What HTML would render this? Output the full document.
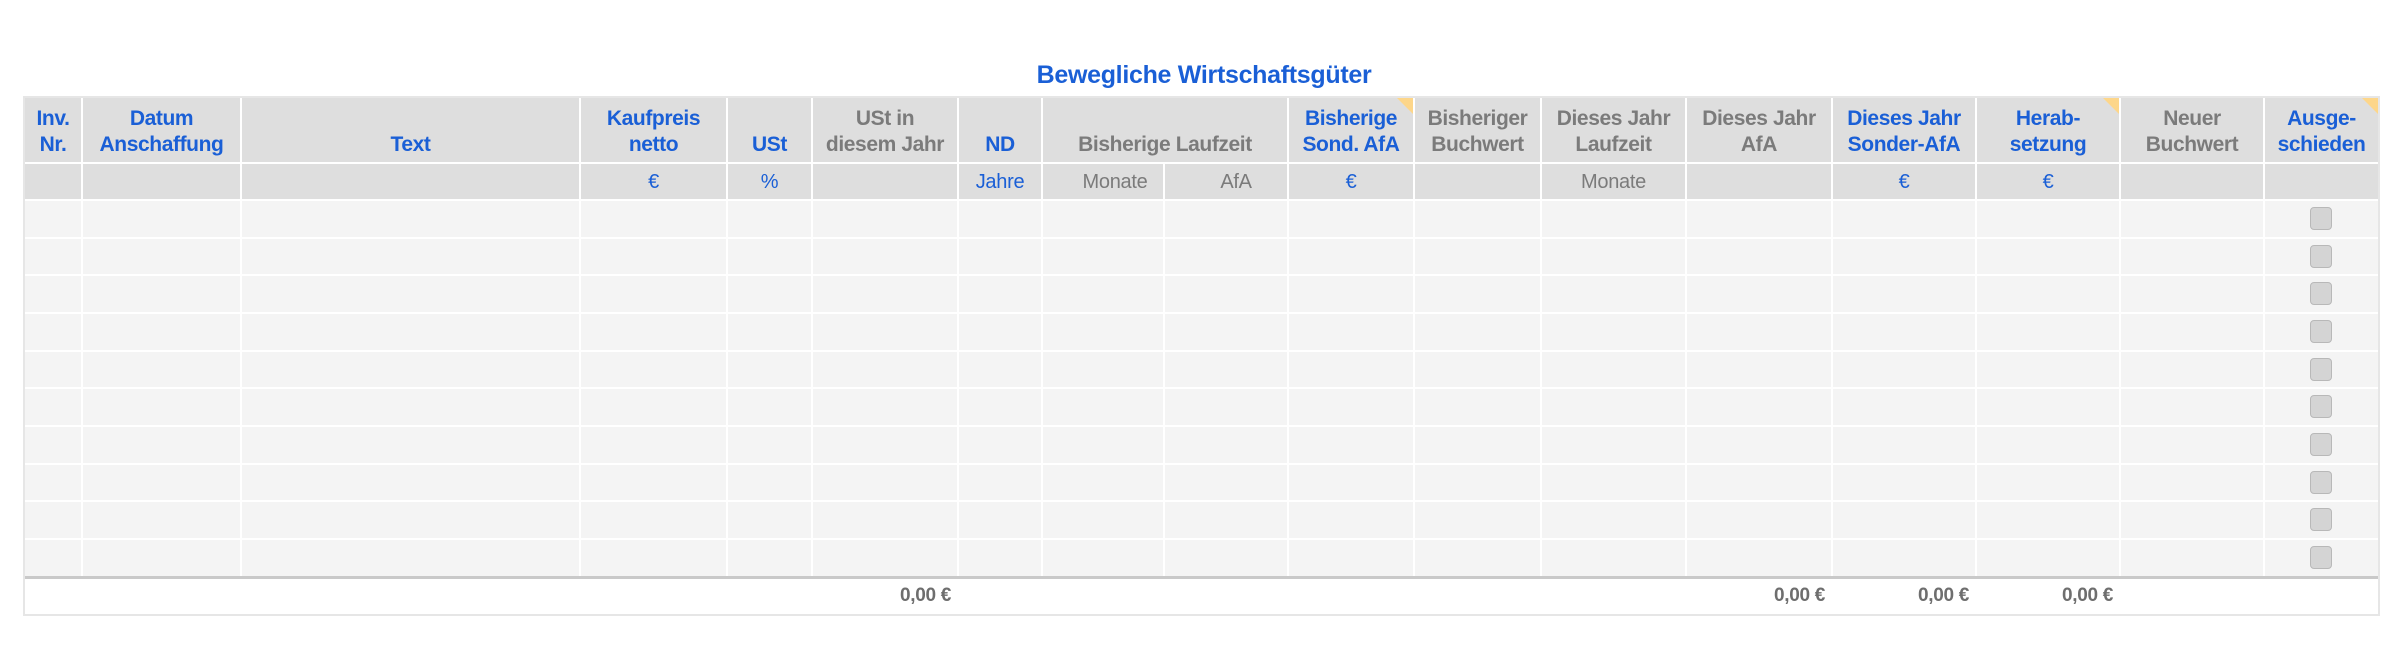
<!DOCTYPE html>
<html><head><meta charset="utf-8"><style>
*{margin:0;padding:0;box-sizing:border-box}
body{width:2408px;height:666px;background:#fff;position:relative;overflow:hidden;font-family:"Liberation Sans",Arial,sans-serif}
.a{position:absolute}
.t{position:absolute;text-align:center;font-weight:bold;font-size:21px;line-height:26px;letter-spacing:-0.4px;display:flex;align-items:flex-end;justify-content:center;top:98px;height:66px;padding-bottom:6px}
.b{color:#1a5fd6}.g{color:#7b7b7b}
.u{position:absolute;top:164px;height:37px;font-size:20px;line-height:37px;text-align:center;letter-spacing:-0.3px}
.vl{position:absolute;width:2px;background:#fff;top:98px;height:478px}
.hl{position:absolute;height:2px;background:#fff;left:25px;width:2353px}
.cb{position:absolute;left:2310px;width:22px;height:23px;border-radius:4px;background:#d4d4d4;border:1px solid #b8b8b8}
.tri{position:absolute;width:0;height:0;border-top:16px solid #fdd68a;border-left:16px solid transparent}
.f{position:absolute;top:578px;height:36px;line-height:36px;font-size:19px;font-weight:bold;color:#6e6e6e;text-align:right;letter-spacing:-0.3px}
</style></head><body>
<div class="a b" style="left:0;width:2408px;top:58px;text-align:center;font-size:25px;font-weight:bold;line-height:34px;letter-spacing:-0.3px">Bewegliche Wirtschaftsgüter</div>
<div class="a" style="left:23px;top:96px;width:2357px;height:520px;border:2px solid #e6e6e6"></div>
<div class="a" style="left:25px;top:98px;width:2353px;height:102px;background:#dedede"></div>
<div class="a" style="left:25px;top:200px;width:2353px;height:376px;background:#f4f4f4"></div>
<div class="a" style="left:25px;top:576px;width:2353px;height:3px;background:#c9c9c9"></div>
<div class="vl" style="left:81px"></div>
<div class="vl" style="left:240px"></div>
<div class="vl" style="left:579px"></div>
<div class="vl" style="left:726px"></div>
<div class="vl" style="left:811px"></div>
<div class="vl" style="left:957px"></div>
<div class="vl" style="left:1041px"></div>
<div class="vl" style="left:1163px;top:163px;height:413px"></div>
<div class="vl" style="left:1287px"></div>
<div class="vl" style="left:1413px"></div>
<div class="vl" style="left:1540px"></div>
<div class="vl" style="left:1685px"></div>
<div class="vl" style="left:1831px"></div>
<div class="vl" style="left:1975px"></div>
<div class="vl" style="left:2119px"></div>
<div class="vl" style="left:2263px"></div>
<div class="hl" style="top:162px"></div>
<div class="hl" style="top:199px"></div>
<div class="hl" style="top:237px"></div>
<div class="hl" style="top:274px"></div>
<div class="hl" style="top:312px"></div>
<div class="hl" style="top:350px"></div>
<div class="hl" style="top:387px"></div>
<div class="hl" style="top:425px"></div>
<div class="hl" style="top:463px"></div>
<div class="hl" style="top:500px"></div>
<div class="hl" style="top:538px"></div>
<div class="t b" style="left:25px;width:56px">Inv.<br>Nr.</div>
<div class="t b" style="left:83px;width:157px">Datum<br>Anschaffung</div>
<div class="t b" style="left:242px;width:337px">Text</div>
<div class="t b" style="left:581px;width:145px">Kaufpreis<br>netto</div>
<div class="t b" style="left:728px;width:83px">USt</div>
<div class="t g" style="left:813px;width:144px">USt in<br>diesem Jahr</div>
<div class="t b" style="left:959px;width:82px">ND</div>
<div class="t g" style="left:1043px;width:244px">Bisherige Laufzeit</div>
<div class="t b" style="left:1289px;width:124px">Bisherige<br>Sond. AfA</div>
<div class="t g" style="left:1415px;width:125px">Bisheriger<br>Buchwert</div>
<div class="t g" style="left:1542px;width:143px">Dieses Jahr<br>Laufzeit</div>
<div class="t g" style="left:1687px;width:144px">Dieses Jahr<br>AfA</div>
<div class="t b" style="left:1833px;width:142px">Dieses Jahr<br>Sonder-AfA</div>
<div class="t b" style="left:1977px;width:142px">Herab-<br>setzung</div>
<div class="t g" style="left:2121px;width:142px">Neuer<br>Buchwert</div>
<div class="t b" style="left:2265px;width:113px">Ausge-<br>schieden</div>
<div class="tri" style="left:1397px;top:98px"></div>
<div class="tri" style="left:2103px;top:98px"></div>
<div class="tri" style="left:2362px;top:98px"></div>
<div class="u b" style="left:581px;width:145px">€</div>
<div class="u b" style="left:728px;width:83px">%</div>
<div class="u b" style="left:959px;width:82px">Jahre</div>
<div class="u g" style="left:1053px;width:124px">Monate</div>
<div class="u g" style="left:1176px;width:120px">AfA</div>
<div class="u b" style="left:1289px;width:124px">€</div>
<div class="u g" style="left:1542px;width:143px">Monate</div>
<div class="u b" style="left:1833px;width:142px">€</div>
<div class="u b" style="left:1977px;width:142px">€</div>
<div class="cb" style="top:207px"></div>
<div class="cb" style="top:245px"></div>
<div class="cb" style="top:282px"></div>
<div class="cb" style="top:320px"></div>
<div class="cb" style="top:358px"></div>
<div class="cb" style="top:395px"></div>
<div class="cb" style="top:433px"></div>
<div class="cb" style="top:471px"></div>
<div class="cb" style="top:508px"></div>
<div class="cb" style="top:546px"></div>
<div class="f" style="left:813px;width:138px">0,00 €</div>
<div class="f" style="left:1687px;width:138px">0,00 €</div>
<div class="f" style="left:1833px;width:136px">0,00 €</div>
<div class="f" style="left:1977px;width:136px">0,00 €</div>
</body></html>
